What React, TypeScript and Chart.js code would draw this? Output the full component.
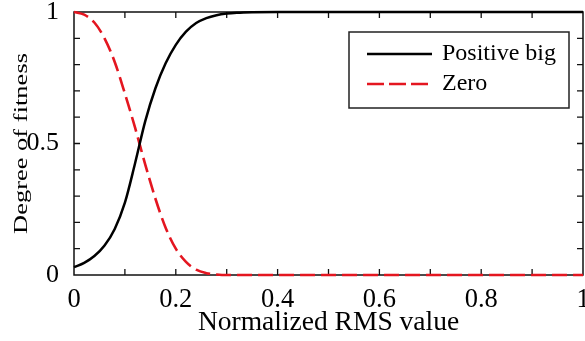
import React, { useEffect, useRef } from "react";
import { Chart, registerables } from "chart.js";

Chart.register(...registerables);

// ---- data ----
const rmsValues = [0, 0.02, 0.04, 0.06, 0.08, 0.1, 0.12, 0.14, 0.16, 0.18, 0.2, 0.22, 0.24, 0.26, 0.28, 0.3, 0.32, 0.35, 0.4, 0.5, 0.6, 0.7, 0.8, 0.9, 1.0];
const positiveBig = [0.03, 0.046, 0.072, 0.112, 0.175, 0.275, 0.425, 0.585, 0.71, 0.805, 0.875, 0.925, 0.958, 0.977, 0.988, 0.994, 0.997, 0.999, 1, 1, 1, 1, 1, 1, 1];
const zero = [1, 0.99, 0.96, 0.9, 0.81, 0.69, 0.56, 0.42, 0.29, 0.18, 0.1, 0.05, 0.02, 0.007, 0.002, 0, 0, 0, 0, 0, 0, 0, 0, 0, 0];

const seriesNames = ["Positive big", "Zero"];
const xTickLabels = ["0", "0.2", "0.4", "0.6", "0.8", "1"];
const yTickLabels = ["0", "0.5", "1"];
const xMinorTicks = [0.1, 0.2, 0.3, 0.4, 0.5, 0.6, 0.7, 0.8, 0.9];
const yMinorTicks = [0.1, 0.2, 0.3, 0.4, 0.5, 0.6, 0.7, 0.8, 0.9];
const xTitle = "Normalized RMS value";
const yTitle = "Degree of fitness";

const SERIF = "'Liberation Serif', 'Times New Roman', serif";
const RED = "rgb(228, 22, 32)";

const framePlugin = {
  id: "framePlugin",
  beforeDatasetsDraw(chart: any) {
    const { ctx, chartArea: a, scales } = chart;
    const xs = scales.x;
    const ys = scales.y;
    ctx.save();
    ctx.strokeStyle = "#111";
    ctx.lineWidth = 1.5;
    ctx.strokeRect(a.left, a.top, a.right - a.left, a.bottom - a.top);
    const len = 6;
    ctx.lineWidth = 1.3;
    ctx.beginPath();
    xMinorTicks.forEach((v) => {
      const px = xs.getPixelForValue(v);
      ctx.moveTo(px, a.bottom);
      ctx.lineTo(px, a.bottom - len);
      ctx.moveTo(px, a.top);
      ctx.lineTo(px, a.top + len);
    });
    yMinorTicks.forEach((v) => {
      const py = ys.getPixelForValue(v);
      ctx.moveTo(a.left, py);
      ctx.lineTo(a.left + len, py);
      ctx.moveTo(a.right, py);
      ctx.lineTo(a.right - len, py);
    });
    ctx.stroke();

    // y-axis title (rendered slightly condensed across its height, as in the reference)
    const cy = (a.top + a.bottom) / 2;
    ctx.save();
    ctx.translate(27, cy);
    ctx.scale(0.68, 1);
    ctx.rotate(-Math.PI / 2);
    ctx.fillStyle = "#000";
    ctx.font = `26.5px ${SERIF}`;
    ctx.textAlign = "center";
    ctx.textBaseline = "alphabetic";
    ctx.fillText(yTitle, 0, 0);
    ctx.restore();
    ctx.restore();
  },
  afterDraw(chart: any) {
    const { ctx } = chart;
    const boxL = 349, boxT = 32, boxR = 569, boxB = 108;
    ctx.save();
    ctx.fillStyle = "#fff";
    ctx.fillRect(boxL, boxT, boxR - boxL, boxB - boxT);
    ctx.strokeStyle = "#222";
    ctx.lineWidth = 1.5;
    ctx.strokeRect(boxL, boxT, boxR - boxL, boxB - boxT);
    const rows = [54, 84];
    chart.data.datasets.forEach((ds: any, i: number) => {
      const y = rows[i];
      ctx.beginPath();
      ctx.strokeStyle = ds.borderColor;
      ctx.lineWidth = ds.borderWidth;
      ctx.setLineDash(i === 1 ? [17, 5] : []);
      ctx.moveTo(367, y);
      ctx.lineTo(432, y);
      ctx.stroke();
      ctx.setLineDash([]);
      ctx.fillStyle = "#000";
      ctx.font = `24px ${SERIF}`;
      ctx.textBaseline = "middle";
      ctx.textAlign = "left";
      ctx.fillText(ds.label, 442, y);
    });
    ctx.restore();
  },
};

export default function App() {
  const ref = useRef<HTMLCanvasElement | null>(null);

  useEffect(() => {
    if (!ref.current) return;
    const chart = new Chart(ref.current, {
      type: "line",
      data: {
        datasets: [
          {
            label: seriesNames[0],
            data: rmsValues.map((x, i) => ({ x, y: positiveBig[i] })),
            borderColor: "#000",
            borderWidth: 2.5,
            pointRadius: 0,
            cubicInterpolationMode: "monotone",
            clip: false as any,
          },
          {
            label: seriesNames[1],
            data: rmsValues.map((x, i) => ({ x, y: zero[i] })),
            borderColor: RED,
            borderWidth: 2.6,
            borderDash: [15, 6],
            pointRadius: 0,
            cubicInterpolationMode: "monotone",
            clip: false as any,
          },
        ],
      },
      options: {
        animation: false,
        responsive: false,
        layout: { padding: { left: 0, right: 2, top: 12, bottom: 0 } },
        plugins: { legend: { display: false }, tooltip: { enabled: false } },
        scales: {
          x: {
            type: "linear",
            min: 0,
            max: 1,
            grid: { display: false },
            border: { display: false },
            ticks: {
              stepSize: 0.2,
              autoSkip: false,
              maxRotation: 0,
              padding: 1,
              color: "#000",
              font: { family: SERIF, size: 26.5 },
              callback: (v: any) => {
                const i = Math.round(Number(v) / 0.2);
                return xTickLabels[i] ?? "";
              },
            },
            title: {
              display: true,
              text: xTitle,
              color: "#000",
              font: { family: SERIF, size: 27.5 },
              padding: { top: 0, bottom: 2 },
            },
            afterFit: (s: any) => {
              s.height = 66;
              s.paddingLeft = 0;
              s.paddingRight = 0;
            },
          } as any,
          y: {
            type: "linear",
            min: 0,
            max: 1,
            grid: { display: false },
            border: { display: false },
            ticks: {
              stepSize: 0.5,
              padding: 7,
              color: "#000",
              font: { family: SERIF, size: 26 },
              callback: (v: any) => {
                const i = Math.round(Number(v) / 0.5);
                return yTickLabels[i] ?? "";
              },
            },
            title: { display: false, text: yTitle },
            afterFit: (s: any) => {
              s.width = 74;
              s.paddingTop = 0;
              s.paddingBottom = 0;
            },
          } as any,
        },
      },
      plugins: [framePlugin],
    });
    return () => chart.destroy();
  }, []);

  return (
    <div style={{ position: "fixed", left: 0, top: 0, width: 585, height: 341, background: "#fff" }}>
      <canvas ref={ref} width={585} height={341} style={{ display: "block", width: 585, height: 341 }} />
    </div>
  );
}
